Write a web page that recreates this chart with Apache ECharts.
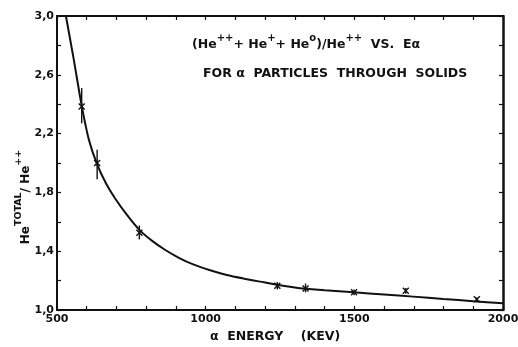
<!DOCTYPE html>
<html>
<head>
<meta charset="utf-8">
<script src="https://cdn.jsdelivr.net/npm/echarts@6/dist/echarts.min.js"></script>
<style>
  html, body { margin: 0; padding: 0; background: #fff; }
  #chart { width: 518px; height: 347px; }
</style>
</head>
<body>
<div id="chart"></div>
<script>
// fitted curve
var curveE = [530, 555, 583, 607, 635, 665, 695, 734, 777, 820, 863, 910, 958, 1015, 1071, 1130, 1183, 1250, 1317, 1400, 1499, 1600, 1698, 1800, 1900, 2000];
var curveR = [3.0, 2.72, 2.39, 2.16, 1.99, 1.86, 1.76, 1.65, 1.545, 1.47, 1.41, 1.355, 1.31, 1.27, 1.238, 1.213, 1.193, 1.168, 1.148, 1.135, 1.12, 1.105, 1.091, 1.075, 1.06, 1.046];

// measured points with error bars
var pointE = [583, 635, 777, 1241, 1336, 1499, 1673, 1912];
var pointR = [2.385, 2.0, 1.526, 1.165, 1.147, 1.12, 1.131, 1.073];
var errLow = [2.27, 1.89, 1.48, 1.14, 1.12, 1.10, 1.11, 1.06];
var errHigh = [2.51, 2.09, 1.575, 1.19, 1.18, 1.14, 1.15, 1.085];

var xTicks = [500, 1000, 1500, 2000];
var yTicks = [1.0, 1.4, 1.8, 2.2, 2.6, 3.0];

var font = "DejaVu Sans";
var ink = "#111";

var curveData = curveE.map(function (e, i) { return [e, curveR[i]]; });
var pointData = pointE.map(function (e, i) { return [e, pointR[i], errLow[i], errHigh[i]]; });

var chart = echarts.init(document.getElementById("chart"));

var option = {
  animation: false,
  backgroundColor: "#fff",
  grid: { left: 57, right: 15, top: 16, bottom: 37, outerBoundsMode: "none", containLabel: false },
  title: [
    {
      left: 192, top: 33, padding: 0,
      text: "{m|(He}{s|++}{m|+ He}{s|+}{m|+ He}{s|o}{m|)/He}{s|++}{m|  VS.  Eα}",
      textStyle: {
        rich: {
          m: { fontFamily: font, fontSize: 12.5, color: ink, fontWeight: "bold", verticalAlign: "bottom", lineHeight: 18 },
          s: { fontFamily: font, fontSize: 10, color: ink, fontWeight: "bold", verticalAlign: "top", lineHeight: 18 }
        }
      }
    },
    {
      left: 203, top: 67, padding: 0,
      text: "FOR α  PARTICLES  THROUGH  SOLIDS",
      textStyle: { fontFamily: font, fontSize: 12.5, color: ink, fontWeight: "bold" }
    }
  ],
  xAxis: [
    {
      type: "value", min: 500, max: 2000, interval: 500,
      name: "α  ENERGY    (KEV)", nameLocation: "middle", nameGap: 20,
      nameTextStyle: { fontFamily: font, fontSize: 12.5, color: ink, fontWeight: "bold", padding: [0, 10, 0, 0] },
      axisLine: { onZero: false, lineStyle: { color: ink, width: 2 } },
      axisTick: { inside: true, length: 4, lineStyle: { color: ink, width: 1.2 } },
      minorTick: { show: true, splitNumber: 5, length: 4, lineStyle: { color: ink, width: 1.2 } },
      axisLabel: {
        fontFamily: font, fontSize: 11, color: ink, fontWeight: "bold", margin: 4,
        formatter: function (v) { return xTicks.indexOf(v) >= 0 ? String(v) : ""; }
      },
      splitLine: { show: false }
    },
    {
      type: "value", position: "top", min: 500, max: 2000, interval: 500,
      axisLine: { onZero: false, lineStyle: { color: ink, width: 2 } },
      axisTick: { inside: true, length: 4, lineStyle: { color: ink, width: 1.2 } },
      minorTick: { show: true, splitNumber: 5, length: 4, lineStyle: { color: ink, width: 1.2 } },
      axisLabel: { show: false },
      splitLine: { show: false }
    }
  ],
  yAxis: [
    {
      type: "value", min: 1.0, max: 3.0, interval: 0.2,
      name: "{m|He}{s|TOTAL}{m|/ He}{s|++}", nameLocation: "middle", nameRotate: 90, nameGap: 25,
      nameMoveOverlap: false,
      nameTextStyle: {
        padding: [0, 68, 0, 0],
        rich: {
          m: { fontFamily: font, fontSize: 12, color: ink, fontWeight: "bold", verticalAlign: "bottom", lineHeight: 18 },
          s: { fontFamily: font, fontSize: 9.5, color: ink, fontWeight: "bold", verticalAlign: "top", lineHeight: 18 }
        }
      },
      axisLine: { onZero: false, lineStyle: { color: ink, width: 2 } },
      axisTick: { inside: true, length: 4, lineStyle: { color: ink, width: 1.2 } },
      axisLabel: {
        fontFamily: font, fontSize: 11, color: ink, fontWeight: "bold", margin: 3,
        formatter: function (v) {
          var hit = yTicks.filter(function (t) { return Math.abs(t - v) < 1e-6; });
          return hit.length ? v.toFixed(1).replace(".", ",") : "";
        }
      },
      splitLine: { show: false }
    },
    {
      type: "value", position: "right", min: 1.0, max: 3.0, interval: 0.2,
      axisLine: { onZero: false, lineStyle: { color: ink, width: 2.5 } },
      axisTick: { inside: true, length: 4, lineStyle: { color: ink, width: 1.2 } },
      axisLabel: { show: false },
      splitLine: { show: false }
    }
  ],
  series: [
    {
      type: "line",
      data: curveData,
      smooth: 0.25,
      symbol: "none",
      clip: true,
      lineStyle: { color: ink, width: 2 }
    },
    {
      type: "custom",
      data: pointData,
      renderItem: function (params, api) {
        var p = api.coord([api.value(0), api.value(1)]);
        var lo = api.coord([api.value(0), api.value(2)]);
        var hi = api.coord([api.value(0), api.value(3)]);
        var s = 3;
        var st = { stroke: ink, lineWidth: 1.4 };
        return {
          type: "group",
          children: [
            { type: "line", shape: { x1: p[0], y1: hi[1], x2: p[0], y2: lo[1] }, style: st },
            { type: "line", shape: { x1: p[0] - s, y1: p[1] - s, x2: p[0] + s, y2: p[1] + s }, style: st },
            { type: "line", shape: { x1: p[0] - s, y1: p[1] + s, x2: p[0] + s, y2: p[1] - s }, style: st }
          ]
        };
      }
    }
  ]
};

chart.setOption(option);
</script>
</body>
</html>
